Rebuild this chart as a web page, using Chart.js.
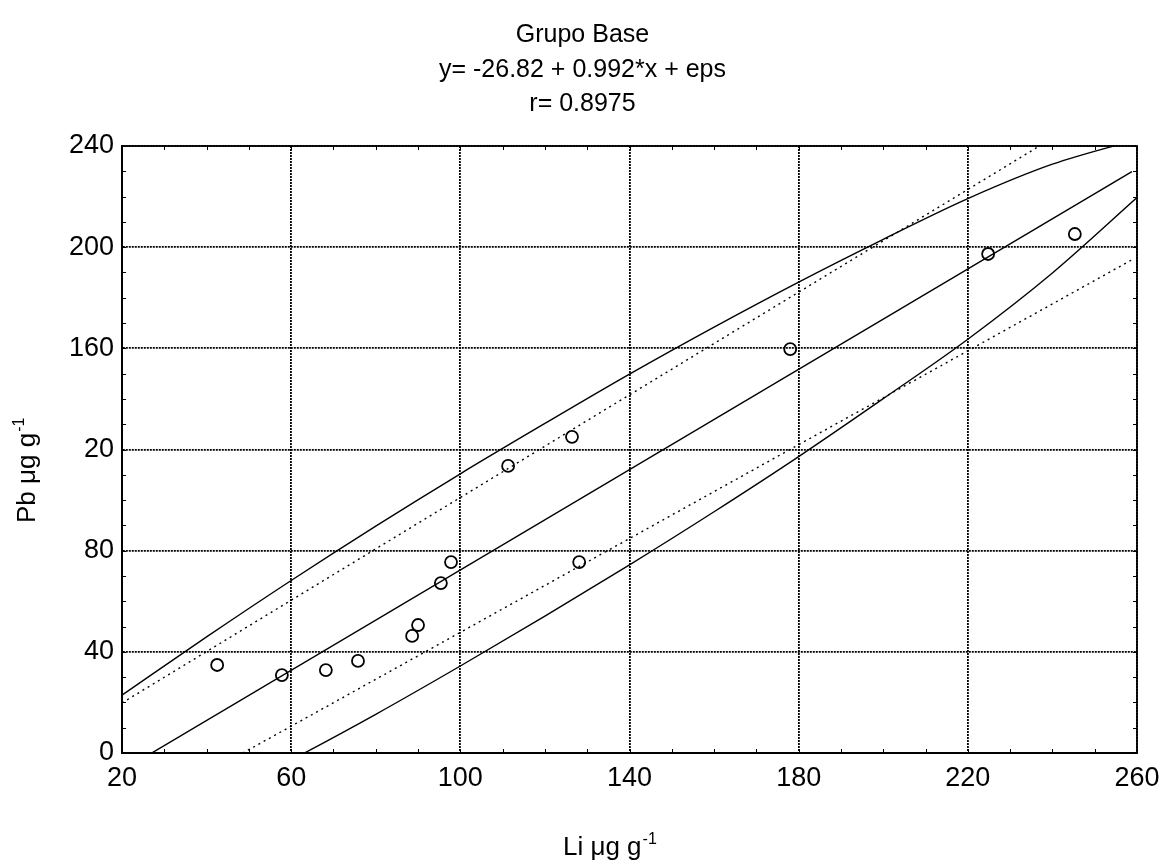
<!DOCTYPE html>
<html>
<head>
<meta charset="utf-8">
<title>Grupo Base</title>
<script src="https://cdn.jsdelivr.net/npm/chart.js@4.4.1/dist/chart.umd.min.js"></script>
<style>
  body { margin: 0; background: #fff; }
  canvas { display: block; }
</style>
</head>
<body>
<canvas id="regChart" width="1165" height="863"></canvas>
<script>
// Tick values and the (odd) labels printed on the original y axis
const xTickValues = [20, 60, 100, 140, 180, 220, 260];
const yTickValues = [0, 40, 80, 120, 160, 200, 240];
const yTickLabels = ['0', '40', '80', '20', '160', '200', '240'];

const liValues = [42.5, 57.8, 68.2, 75.8, 88.6, 90.0, 95.4, 97.8, 111.3, 126.4, 128.1, 178.0, 224.8, 245.3];
const pbValues = [34.8, 30.8, 32.8, 36.4, 46.3, 50.6, 67.2, 75.5, 113.5, 125.0, 75.5, 159.7, 197.3, 205.2];

// Fitted line y = -26.82 + 0.992*x
const fitX = [20, 258.8];
const fitY = [-6.98, 229.9];

// Dotted lines (straight)
const dotUpperX = [20, 258.8];
const dotUpperY = [19.8, 262.2];
const dotLowerX = [20, 258.8];
const dotLowerY = [-26.5, 195.0];

// Solid outer curves, read every 20 units on x
const bandX = [20, 40, 60, 80, 100, 120, 140, 160, 180, 200, 220, 240, 260];
const bandUpperY = [22.9, 45.9, 68.2, 89.7, 110.4, 130.3, 149.8, 168.4, 186.2, 203.1, 219.2, 232.8, 242.6];
const bandLowerY = [-36.9, -20.1, -2.8, 15.3, 34.4, 54.1, 74.4, 95.4, 117.2, 140.1, 163.6, 189.8, 219.6];

const titleLines = ['Grupo Base', 'y= -26.82 + 0.992*x + eps', 'r= 0.8975'];

const FONT = "'Liberation Sans', Arial, sans-serif";

const toXY = (xs, ys) => xs.map((x, i) => ({ x: x, y: ys[i] }));

// helper for a line dataset
const lineSet = (xs, ys, dash, smooth) => ({
    type: 'scatter',
    data: toXY(xs, ys),
    showLine: true,
    borderColor: '#000',
    borderWidth: 1.4,
    borderDash: dash,
    pointRadius: 0,
    fill: false,
    clip: 0,
    cubicInterpolationMode: smooth ? 'monotone' : 'default'
});

// draws titles, minor ticks and the frame
const decorPlugin = {
    id: 'decor',
    afterDraw(chart) {
        const ctx = chart.ctx;
        const a = chart.chartArea;
        const xs = chart.scales.x;
        const ys = chart.scales.y;
        ctx.save();
        ctx.strokeStyle = '#000';
        ctx.lineWidth = 1;

        // inward minor ticks on all four sides
        ctx.beginPath();
        for (let v = 20; v <= 260; v += 10) {
            const px = Math.round(xs.getPixelForValue(v)) + 0.5;
            ctx.moveTo(px, a.bottom); ctx.lineTo(px, a.bottom - 4);
            ctx.moveTo(px, a.top); ctx.lineTo(px, a.top + 4);
        }
        for (let v = 0; v <= 240; v += 10) {
            const py = Math.round(ys.getPixelForValue(v)) + 0.5;
            ctx.moveTo(a.left, py); ctx.lineTo(a.left + 4, py);
            ctx.moveTo(a.right, py); ctx.lineTo(a.right - 4, py);
        }
        ctx.stroke();

        // frame
        ctx.lineWidth = 1.8;
        ctx.strokeRect(a.left, a.top, a.right - a.left, a.bottom - a.top);

        // title
        ctx.fillStyle = '#000';
        ctx.textAlign = 'center';
        ctx.textBaseline = 'middle';
        ctx.font = '25px ' + FONT;
        const ty = [35, 70, 104];
        titleLines.forEach((t, i) => ctx.fillText(t, chart.width / 2, ty[i]));

        // axis titles with superscript
        const drawUnit = (label, x, y) => {
            ctx.textAlign = 'left';
            ctx.textBaseline = 'alphabetic';
            ctx.font = '26px ' + FONT;
            ctx.fillText(label, x, y);
            const w = ctx.measureText(label).width;
            ctx.font = '16px ' + FONT;
            ctx.fillText('-1', x + w + 1, y - 11);
        };
        drawUnit('Li \u03bcg g', 563, 855);

        ctx.translate(35, 523);
        ctx.rotate(-Math.PI / 2);
        drawUnit('Pb \u03bcg g', 0, 0);
        ctx.restore();
    }
};

new Chart(document.getElementById('regChart'), {
    type: 'scatter',
    data: {
        datasets: [
            lineSet(bandX, bandUpperY, [], true),
            lineSet(bandX, bandLowerY, [], true),
            lineSet(dotUpperX, dotUpperY, [2, 4], false),
            lineSet(dotLowerX, dotLowerY, [2, 4], false),
            lineSet(fitX, fitY, [], false),
            {
                type: 'scatter',
                data: toXY(liValues, pbValues),
                pointStyle: 'circle',
                pointRadius: 6,
                borderColor: '#000',
                borderWidth: 1.8,
                backgroundColor: 'rgba(0,0,0,0)',
                showLine: false
            }
        ]
    },
    options: {
        responsive: false,
        animation: false,
        layout: { padding: { top: 146, right: 28, bottom: 0, left: 0 } },
        plugins: {
            legend: { display: false },
            tooltip: { enabled: false },
            title: { display: false }
        },
        scales: {
            x: {
                type: 'linear',
                min: xTickValues[0],
                max: xTickValues[xTickValues.length - 1],
                ticks: {
                    stepSize: 40,
                    color: '#000',
                    font: { size: 27, family: FONT },
                    padding: 9,
                    maxRotation: 0
                },
                grid: { color: '#000', lineWidth: 1.8, drawTicks: false },
                border: { display: true, color: '#000', width: 1.8, dash: [2, 1] },
                afterFit: scale => {
                    scale.height = 110;
                    scale.paddingLeft = 0;
                    scale.paddingRight = 0;
                }
            },
            y: {
                type: 'linear',
                min: yTickValues[0],
                max: yTickValues[yTickValues.length - 1],
                ticks: {
                    stepSize: 40,
                    color: '#000',
                    font: { size: 27, family: FONT },
                    padding: 8,
                    callback: value => yTickLabels[yTickValues.indexOf(value)]
                },
                grid: { color: '#000', lineWidth: 1.8, drawTicks: false },
                border: { display: true, color: '#000', width: 1.8, dash: [2, 1] },
                afterFit: scale => {
                    scale.width = 122;
                    scale.paddingTop = 0;
                    scale.paddingBottom = 0;
                }
            }
        }
    },
    plugins: [decorPlugin]
});
</script>
</body>
</html>
